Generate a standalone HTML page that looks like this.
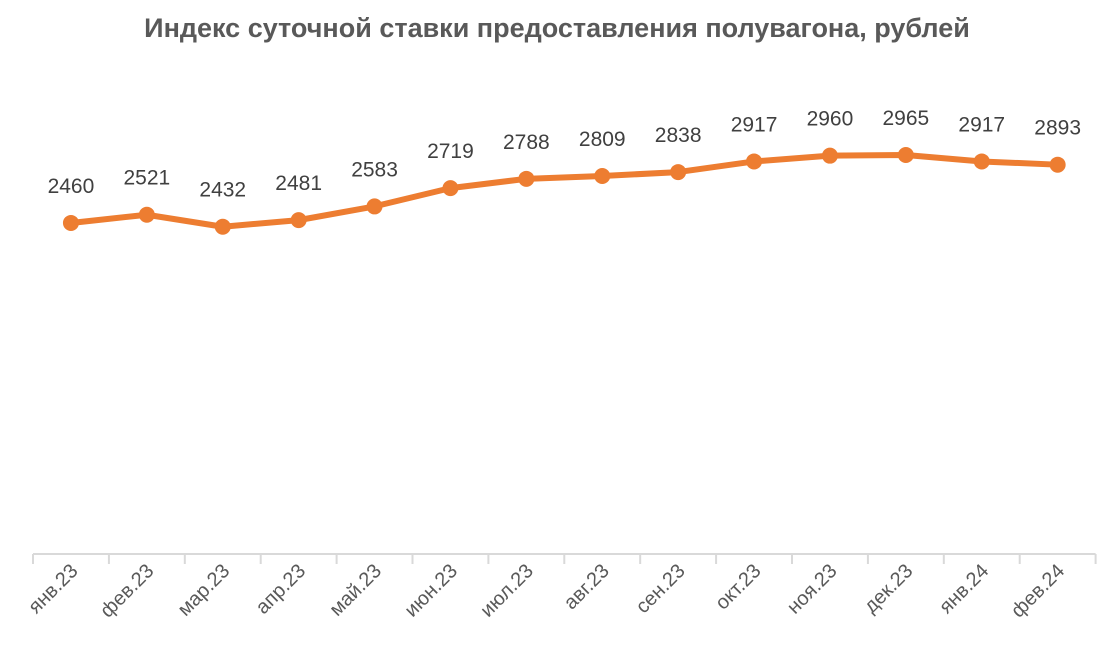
<!DOCTYPE html>
<html><head><meta charset="utf-8"><style>
html,body{margin:0;padding:0;background:#fff;}
svg{display:block;font-family:"Liberation Sans","DejaVu Sans",sans-serif;}
</style></head><body>
<svg id="chart" width="1115" height="657" viewBox="0 0 1115 657" xmlns="http://www.w3.org/2000/svg">
<text x="557" y="37" text-anchor="middle" font-size="27" font-weight="bold" fill="#595959">Индекс суточной ставки предоставления полувагона, рублей</text>
<g id="axis"></g>
<g id="series"></g>
</svg>
<script>
const categories = ["янв.23","фев.23","мар.23","апр.23","май.23","июн.23","июл.23","авг.23","сен.23","окт.23","ноя.23","дек.23","янв.24","фев.24"];
const values = [2460,2521,2432,2481,2583,2719,2788,2809,2838,2917,2960,2965,2917,2893];
const valueLabels = ["2460","2521","2432","2481","2583","2719","2788","2809","2838","2917","2960","2965","2917","2893"];

const NS = "http://www.w3.org/2000/svg";
const x0 = 33, step = 75.9, axisY = 554, k = 399 / 2965;
const xPos = i => x0 + step * (i + 0.5);
const yPos = v => axisY - v * k;
function mk(tag, attrs, parent) {
  const e = document.createElementNS(NS, tag);
  for (const a in attrs) e.setAttribute(a, attrs[a]);
  parent.appendChild(e);
  return e;
}
const axis = document.getElementById('axis');
const series = document.getElementById('series');
const line = mk('line', {x1: x0, y1: axisY, x2: x0 + step * categories.length, y2: axisY, stroke: '#d9d9d9', 'stroke-width': 2}, axis);


for (let i = 0; i <= categories.length; i++) {
  const t = mk('line', {x1: x0 + step * i, y1: axisY, x2: x0 + step * i, y2: axisY + 10, stroke: '#d9d9d9', 'stroke-width': 2}, axis);
  
  
}
categories.forEach((c, i) => {
  const lx = xPos(i) + 8, ly = 572;
  const t = mk('text', {x: lx, y: ly, 'text-anchor': 'end', 'font-size': 20, fill: '#595959', transform: `rotate(-45 ${lx} ${ly})`}, axis);
  t.textContent = c;
  
  
});
const pts = values.map((v, i) => `${xPos(i)},${yPos(v)}`).join(' ');
const pl = mk('polyline', {points: pts, fill: 'none', stroke: '#ed7d31', 'stroke-width': 6, 'stroke-linejoin': 'round', 'stroke-linecap': 'round'}, series);


values.forEach((v, i) => {
  const c = mk('circle', {cx: xPos(i), cy: yPos(v), r: 8, fill: '#ed7d31'}, series);
  
  
  const t = mk('text', {x: xPos(i), y: yPos(v) - 30, 'text-anchor': 'middle', 'font-size': 21, fill: '#404040'}, series);
  t.textContent = valueLabels[i];
  
  
});
</script>
</body></html>
